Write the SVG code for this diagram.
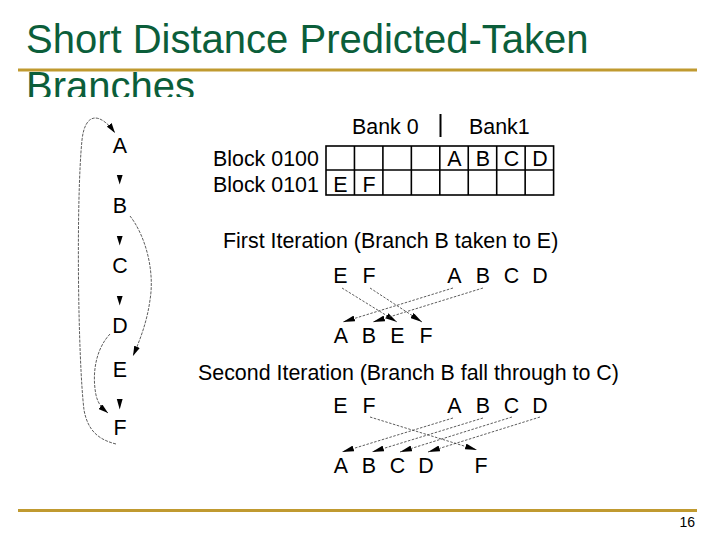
<svg xmlns="http://www.w3.org/2000/svg" width="720" height="540" viewBox="0 0 720 540">
<style>
.t{font-family:"Liberation Sans",Arial,sans-serif;font-size:21.4px;fill:#000}
.m{text-anchor:middle}
.title{font-family:"Liberation Sans",Arial,sans-serif;font-size:40px;fill:#0B5E3A}
.rule{stroke:#C09A30;stroke-width:3}
.cell{fill:none;stroke:#000;stroke-width:1.6}
.dl{fill:none;stroke:#333;stroke-width:0.8;stroke-dasharray:2.5 1.5}
.cv{fill:none;stroke:#333;stroke-width:0.8;stroke-dasharray:3 1.2}
</style>
<defs>
<marker id="ah" viewBox="0 0 12 6" refX="12" refY="3" markerWidth="12" markerHeight="6" markerUnits="userSpaceOnUse" orient="auto">
<path d="M0,0 L12,3 L0,6 Z" fill="#000"/>
</marker>
<marker id="ah2" viewBox="0 0 10 6" refX="10" refY="3" markerWidth="10" markerHeight="6" markerUnits="userSpaceOnUse" orient="auto">
<path d="M0,0 L10,3 L0,6 Z" fill="#000"/>
</marker>
<clipPath id="tc"><rect x="0" y="72" width="720" height="25"/></clipPath>
</defs>
<rect width="720" height="540" fill="#fff"/>
<g id="title">
<text class="title" x="26" y="53">Short Distance Predicted-Taken</text>
<text class="title" x="26" y="100" clip-path="url(#tc)">Branches</text>
<line class="rule" x1="18" y1="70" x2="697" y2="70"/>
<line class="rule" x1="18" y1="510.5" x2="697" y2="510.5"/>
<text x="695" y="527" text-anchor="end" style="font-family:'Liberation Sans',Arial,sans-serif;font-size:14px">16</text>
</g>
<g id="left-column">
<text class="t m" x="120" y="153">A</text>
<text class="t m" x="120" y="213">B</text>
<text class="t m" x="120" y="273">C</text>
<text class="t m" x="120" y="333">D</text>
<text class="t m" x="120" y="377">E</text>
<text class="t m" x="120" y="435">F</text>
<path d="M116.8,175 L122.6,175 L119.7,184.5 Z" fill="#000"/>
<path d="M116.8,236 L122.6,236 L119.7,245.5 Z" fill="#000"/>
<path d="M116.8,296 L122.6,296 L119.7,305.5 Z" fill="#000"/>
<path d="M116.8,399 L122.6,399 L119.7,409.5 Z" fill="#000"/>
</g>
<g id="grid">
<text class="t" x="352" y="134">Bank 0</text>
<line x1="440.5" y1="114" x2="440.5" y2="137" stroke="#000" stroke-width="2"/>
<text class="t" x="469" y="134">Bank1</text>
<text class="t" x="213" y="166">Block 0100</text>
<text class="t" x="213" y="192">Block 0101</text>
<rect class="cell" x="326" y="146" width="227.6" height="49"/>
<line class="cell" x1="326" y1="170" x2="553.6" y2="170"/>
<line class="cell" x1="354.45" y1="146" x2="354.45" y2="195"/>
<line class="cell" x1="382.9" y1="146" x2="382.9" y2="195"/>
<line class="cell" x1="411.35" y1="146" x2="411.35" y2="195"/>
<line class="cell" x1="439.8" y1="146" x2="439.8" y2="195"/>
<line class="cell" x1="468.25" y1="146" x2="468.25" y2="195"/>
<line class="cell" x1="496.7" y1="146" x2="496.7" y2="195"/>
<line class="cell" x1="525.15" y1="146" x2="525.15" y2="195"/>
<text class="t m" x="454.5" y="166">A</text>
<text class="t m" x="483" y="166">B</text>
<text class="t m" x="511.5" y="166">C</text>
<text class="t m" x="540" y="166">D</text>
<text class="t m" x="340.5" y="192">E</text>
<text class="t m" x="369" y="192">F</text>
</g>
<g id="first-iteration">
<text class="t" x="223" y="248">First Iteration (Branch B taken to E)</text>
<text class="t m" x="340.5" y="283">E</text>
<text class="t m" x="369" y="283">F</text>
<text class="t m" x="454.5" y="283">A</text>
<text class="t m" x="483" y="283">B</text>
<text class="t m" x="511.5" y="283">C</text>
<text class="t m" x="540" y="283">D</text>
<text class="t m" x="341" y="343">A</text>
<text class="t m" x="369" y="343">B</text>
<text class="t m" x="397.5" y="343">E</text>
<text class="t m" x="426" y="343">F</text>
</g>
<g id="second-iteration">
<text class="t" x="198" y="380">Second Iteration (Branch B fall through to C)</text>
<text class="t m" x="340.5" y="413">E</text>
<text class="t m" x="369" y="413">F</text>
<text class="t m" x="454.5" y="413">A</text>
<text class="t m" x="483" y="413">B</text>
<text class="t m" x="511.5" y="413">C</text>
<text class="t m" x="540" y="413">D</text>
<text class="t m" x="341" y="473">A</text>
<text class="t m" x="369" y="473">B</text>
<text class="t m" x="397.5" y="473">C</text>
<text class="t m" x="426" y="473">D</text>
<text class="t m" x="481" y="473">F</text>
</g>
<g id="connectors">
<path class="cv" d="M116,444 C100,440 88,432 84,410 C78,360 76,200 82,140 C85,112 100,112 115,133" marker-end="url(#ah2)"/>
<path class="cv" d="M130,216 C145,235 155,270 150,300 C147,322 140,340 133,356" marker-end="url(#ah2)"/>
<path class="cv" d="M110,334 C95,350 92,375 96,395 C98,404 102,408 108,413" marker-end="url(#ah2)"/>
<line class="dl" x1="342" y1="288" x2="397" y2="322" marker-end="url(#ah)"/>
<line class="dl" x1="370" y1="288" x2="422" y2="322" marker-end="url(#ah)"/>
<line class="dl" x1="453" y1="288" x2="343" y2="322" marker-end="url(#ah)"/>
<line class="dl" x1="483" y1="288" x2="373" y2="322" marker-end="url(#ah)"/>
<line class="dl" x1="370" y1="417" x2="477" y2="450" marker-end="url(#ah)"/>
<line class="dl" x1="453" y1="418" x2="342" y2="452" marker-end="url(#ah)"/>
<line class="dl" x1="483" y1="418" x2="372" y2="452" marker-end="url(#ah)"/>
<line class="dl" x1="512" y1="417" x2="400" y2="452" marker-end="url(#ah)"/>
<line class="dl" x1="540" y1="417" x2="428" y2="452" marker-end="url(#ah)"/>
</g>
</svg>
